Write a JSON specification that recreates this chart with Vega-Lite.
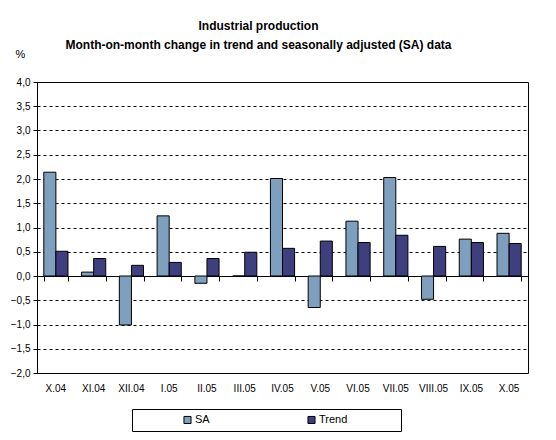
{
  "$schema": "https://vega.github.io/schema/vega-lite/v6.json",
  "width": 491,
  "height": 291,
  "autosize": {"type": "none"},
  "padding": {"left": 37, "top": 82, "right": 28, "bottom": 67},
  "background": "white",
  "config": {
    "font": "Liberation Sans",
    "view": {"stroke": "black", "strokeWidth": 1}
  },
  "title": {
    "text": ["Industrial production", "Month-on-month change in trend and seasonally adjusted (SA) data"],
    "font": "Liberation Sans",
    "fontSize": 12,
    "fontWeight": "bold",
    "color": "black",
    "anchor": "middle",
    "lineHeight": 19,
    "offset": -4,
    "dx": -24
  },
  "data": {
    "values": [
      {"month": "X.04", "series": "SA", "value": 2.14},
      {"month": "X.04", "series": "Trend", "value": 0.51},
      {"month": "XI.04", "series": "SA", "value": 0.08},
      {"month": "XI.04", "series": "Trend", "value": 0.36},
      {"month": "XII.04", "series": "SA", "value": -1.01},
      {"month": "XII.04", "series": "Trend", "value": 0.22},
      {"month": "I.05", "series": "SA", "value": 1.24},
      {"month": "I.05", "series": "Trend", "value": 0.28},
      {"month": "II.05", "series": "SA", "value": -0.15},
      {"month": "II.05", "series": "Trend", "value": 0.36},
      {"month": "III.05", "series": "SA", "value": 0.0},
      {"month": "III.05", "series": "Trend", "value": 0.49},
      {"month": "IV.05", "series": "SA", "value": 2.01},
      {"month": "IV.05", "series": "Trend", "value": 0.57},
      {"month": "V.05", "series": "SA", "value": -0.65},
      {"month": "V.05", "series": "Trend", "value": 0.72},
      {"month": "VI.05", "series": "SA", "value": 1.13},
      {"month": "VI.05", "series": "Trend", "value": 0.69},
      {"month": "VII.05", "series": "SA", "value": 2.03},
      {"month": "VII.05", "series": "Trend", "value": 0.84},
      {"month": "VIII.05", "series": "SA", "value": -0.48},
      {"month": "VIII.05", "series": "Trend", "value": 0.61},
      {"month": "IX.05", "series": "SA", "value": 0.76},
      {"month": "IX.05", "series": "Trend", "value": 0.69},
      {"month": "X.05", "series": "SA", "value": 0.88},
      {"month": "X.05", "series": "Trend", "value": 0.67}
    ]
  },
  "encoding": {
    "x": {
      "field": "month",
      "type": "nominal",
      "sort": ["X.04", "XI.04", "XII.04", "I.05", "II.05", "III.05", "IV.05", "V.05", "VI.05", "VII.05", "VIII.05", "IX.05", "X.05"],
      "scale": {"paddingInner": 0.36, "paddingOuter": 0.18}
    },
    "y": {
      "field": "value",
      "type": "quantitative",
      "scale": {"domain": [-2, 4], "nice": false},
      "axis": {
        "title": "%",
        "titleAngle": 0,
        "titleX": -17,
        "titleY": -23,
        "titleFont": "Liberation Sans",
        "titleFontSize": 11,
        "titleFontWeight": "normal",
        "titleColor": "black",
        "values": [-2, -1.5, -1, -0.5, 0, 0.5, 1, 1.5, 2, 2.5, 3, 3.5, 4],
        "labelExpr": "replace(format(datum.value, '.1f'), '.', ',')",
        "labelFont": "Liberation Sans",
        "labelFontSize": 10,
        "labelColor": "black",
        "labelPadding": 3,
        "domainColor": "black",
        "tickColor": "black",
        "tickSize": 4,
        "grid": true,
        "gridColor": "black",
        "gridDash": [3, 3],
        "gridWidth": 1,
        "gridOpacity": 1
      }
    }
  },
  "layer": [
    {
      "mark": {"type": "bar", "stroke": "black", "strokeWidth": 1},
      "encoding": {
        "x": {
          "field": "month",
          "type": "nominal",
          "sort": ["X.04", "XI.04", "XII.04", "I.05", "II.05", "III.05", "IV.05", "V.05", "VI.05", "VII.05", "VIII.05", "IX.05", "X.05"],
          "axis": {
            "orient": "bottom",
            "title": null,
            "domain": false,
            "ticks": false,
            "grid": false,
            "labelAngle": 0,
            "labelFont": "Liberation Sans",
            "labelFontSize": 10,
            "labelColor": "black",
            "labelPadding": 10
          }
        },
        "xOffset": {"field": "series", "type": "nominal", "sort": ["SA", "Trend"]},
        "color": {
          "field": "series",
          "type": "nominal",
          "scale": {"domain": ["SA", "Trend"], "range": ["#7f9fbf", "#3f3f7f"]},
          "legend": {
            "title": null,
            "orient": "none",
            "direction": "horizontal",
            "legendX": 95,
            "legendY": 327,
            "strokeColor": "black",
            "padding": 5,
            "symbolType": "square",
            "symbolSize": 50,
            "symbolStrokeColor": "black",
            "symbolStrokeWidth": 1,
            "symbolOffset": 45,
            "columnPadding": 51,
            "labelFont": "Liberation Sans",
            "labelFontSize": 11,
            "labelColor": "black",
            "labelOffset": 2,
            "labelExpr": "datum.label == 'Trend' ? 'Trend\u2800\u2800\u2800\u2800\u2800\u2800' : datum.label"
          }
        }
      }
    },
    {
      "mark": {"type": "bar", "opacity": 0},
      "encoding": {
        "x": {
          "field": "month",
          "type": "nominal",
          "sort": ["X.04", "XI.04", "XII.04", "I.05", "II.05", "III.05", "IV.05", "V.05", "VI.05", "VII.05", "VIII.05", "IX.05", "X.05"],
          "axis": {
            "orient": "top",
            "title": null,
            "labels": false,
            "grid": false,
            "domain": true,
            "domainColor": "black",
            "domainWidth": 1,
            "ticks": true,
            "tickColor": "black",
            "tickSize": -5,
            "tickBand": "extent",
            "offset": {"expr": "-scale('y', 0)"}
          }
        }
      }
    }
  ]
}
